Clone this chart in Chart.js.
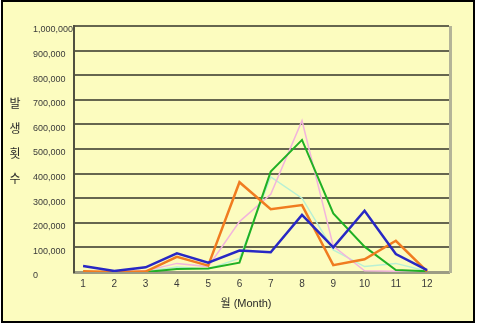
<!DOCTYPE html>
<html><head><meta charset="utf-8">
<script src="https://cdn.jsdelivr.net/npm/chart.js@4/dist/chart.umd.min.js"></script>
<style>
html,body{margin:0;padding:0;background:#fff;}
#box{position:absolute;left:1px;top:0px;width:470px;height:319px;border:2px solid #000;background:#fcfcbf;}
canvas{display:block;}
</style></head><body>
<div id="box"><canvas id="c" width="470" height="319"></canvas></div>
<script>
const months = [1,2,3,4,5,6,7,8,9,10,11,12];
const seriesBlue   = [24000, 4000, 19000, 76000, 38000, 87000, 80000, 232000, 100000, 249000, 73000, 8000];
const seriesOrange = [3000, 0, 2000, 62000, 26000, 365000, 255000, 272000, 28000, 52000, 127000, 2000];
const seriesGreen  = [0, 0, 0, 12000, 14000, 38000, 408000, 537000, 238000, 103000, 8000, 3000];
const seriesPink   = [0, 0, 5000, 35000, 22000, 205000, 316000, 615000, 105000, 5000, 3000, 2000];
const seriesMint   = [0, 0, 3000, 20000, 12000, 55000, 387000, 300000, 90000, 22000, 35000, 3000];
const yTitleChars = ['발','생','횟','수'];
const xTitle = '월 (Month)';

const toPts = arr => arr.map((v,i)=>({x: months[i], y: v}));
const mk = (data, color, w) => ({data: toPts(data), borderColor: color, backgroundColor: color, borderWidth: w, pointRadius: 0, tension: 0, fill: false});

const deco = {
  id: 'deco',
  beforeDatasetsDraw(chart){
    const {ctx, chartArea: a} = chart;
    ctx.save();
    ctx.strokeStyle = '#b4b498';
    ctx.lineWidth = 3;
    ctx.beginPath();
    ctx.moveTo(a.right + 1.5, a.top);
    ctx.lineTo(a.right + 1.5, a.bottom + 1);
    ctx.stroke();
    ctx.restore();
  },
  afterDraw(chart){
    const ctx = chart.ctx;
    ctx.save();
    ctx.fillStyle = '#2a2a2a';
    ctx.textAlign = 'center';
    ctx.textBaseline = 'middle';
    ctx.font = '12px "Noto Sans CJK KR"';
    yTitleChars.forEach((ch,i)=> ctx.fillText(ch, 12, 101 + 25*i));
    ctx.font = '11px "Liberation Sans", "Noto Sans CJK KR"';
    ctx.fillText(xTitle, 243, 302);
    ctx.restore();
  }
};

new Chart(document.getElementById('c'), {
  type: 'line',
  data: {
    datasets: [
      mk(seriesBlue, '#2828c4', 2.5),
      mk(seriesOrange, '#f07c20', 2.5),
      mk(seriesGreen, '#20b024', 2),
      mk(seriesPink, '#f2b4dc', 1.5),
      mk(seriesMint, '#b8f0d4', 1.5)
    ]
  },
  options: {
    responsive: false,
    devicePixelRatio: 1,
    animation: false,
    layout: {padding: {left: 30, right: 24, top: 24, bottom: 0}},
    plugins: {legend: {display: false}, tooltip: {enabled: false}},
    scales: {
      x: {
        type: 'linear', min: 0.71, max: 12.7,
        afterBuildTicks: s => { s.ticks = months.map(m => ({value: m})); },
        afterFit: s => { s.height = 49; },
        ticks: {callback: v => String(v), color: '#3a3a3a', font: {family: 'Liberation Sans', size: 10}, padding: 6, maxRotation: 0, autoSkip: false},
        grid: {display: false, drawTicks: false},
        border: {display: true, color: '#9c9c84', width: 3}
      },
      y: {
        min: 0, max: 1000000,
        afterFit: s => { s.width = 41; },
        ticks: {stepSize: 100000, callback: v => v.toLocaleString('en-US'), crossAlign: 'far', labelOffset: 4, color: '#3a3a3a', font: {family: 'Liberation Sans', size: 9}},
        grid: {color: c => (c.tick && c.tick.value === 0) ? 'rgba(0,0,0,0)' : '#66664f', lineWidth: 2, drawTicks: false},
        border: {display: true, color: '#505040', width: 2}
      }
    }
  },
  plugins: [deco]
});
</script>
</body></html>
